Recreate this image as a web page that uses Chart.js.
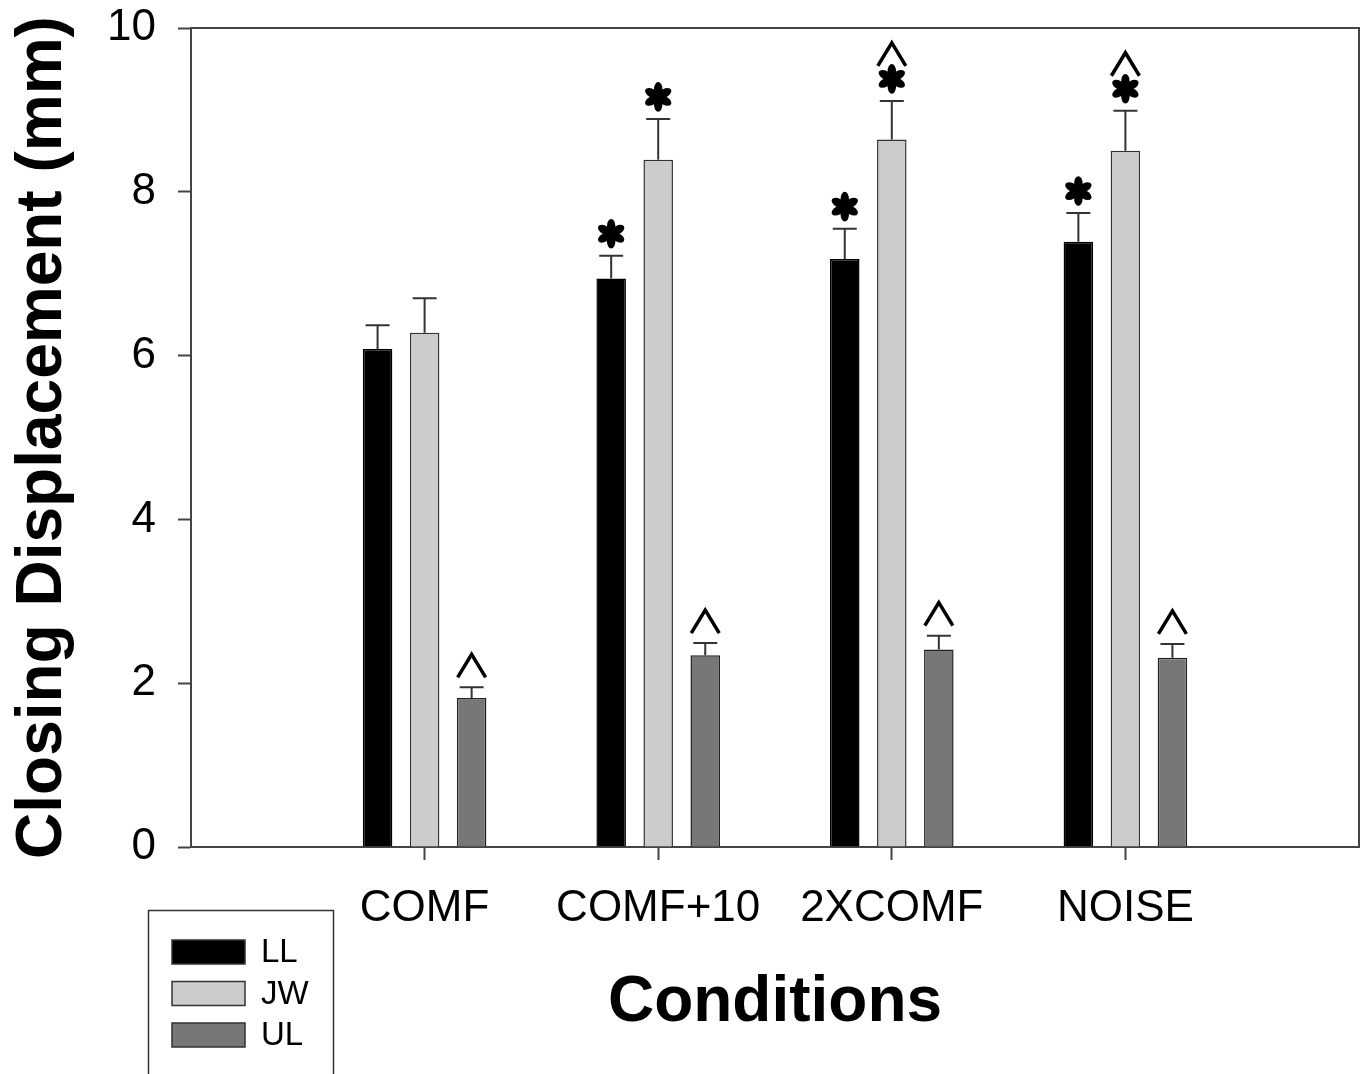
<!DOCTYPE html>
<html>
<head>
<meta charset="utf-8">
<script src="https://cdn.jsdelivr.net/npm/chart.js@4"></script>
<style>
  body { margin: 0; background: #fff; }
  canvas { display: block; }
</style>
</head>
<body>
<canvas id="chart" width="1365" height="1074"></canvas>
<script>
const categories = ["COMF", "COMF+10", "2XCOMF", "NOISE"];
const seriesNames = ["LL", "JW", "UL"];
const llValues = [6.08, 6.94, 7.18, 7.39];
const jwValues = [6.28, 8.39, 8.64, 8.50];
const ulValues = [1.82, 2.34, 2.41, 2.31];
const llErrors = [0.29, 0.28, 0.37, 0.35];
const jwErrors = [0.42, 0.50, 0.47, 0.49];
const ulErrors = [0.13, 0.15, 0.17, 0.17];
// significance marks above each bar: * and ^
const llMarks = ["", "*", "*", "*"];
const jwMarks = ["", "*", "*^", "*^"];
const ulMarks = ["^", "^", "^", "^"];
const yTicks = [0, 2, 4, 6, 8, 10];

const FONT = "'Liberation Sans', Arial, sans-serif";
const AXIS = "#444";

function toPoints(values) {
  return values.map((v, i) => ({ x: i + 1, y: v }));
}

function drawAsterisk(ctx, x, y) {
  ctx.save();
  ctx.translate(x, y);
  ctx.fillStyle = "#000";
  ctx.beginPath();
  ctx.arc(0, 0, 3, 0, Math.PI * 2);
  ctx.fill();
  for (let k = 0; k < 6; k++) {
    ctx.save();
    ctx.rotate(k * Math.PI / 3);
    ctx.beginPath();
    ctx.ellipse(0, -7.8, 4.2, 7, 0, 0, Math.PI * 2);
    ctx.fill();
    ctx.restore();
  }
  ctx.restore();
}

function drawCaret(ctx, x, y) {
  ctx.save();
  ctx.strokeStyle = "#000";
  ctx.lineWidth = 3.5;
  ctx.beginPath();
  ctx.moveTo(x - 14, y + 12);
  ctx.lineTo(x, y - 11);
  ctx.lineTo(x + 14, y + 12);
  ctx.stroke();
  ctx.restore();
}

const errorBars = {
  id: "errorBars",
  afterDatasetsDraw(chart) {
    const ctx = chart.ctx;
    const yScale = chart.scales.y;
    chart.data.datasets.forEach((ds, di) => {
      const meta = chart.getDatasetMeta(di);
      meta.data.forEach((bar, i) => {
        const capY = yScale.getPixelForValue(ds.data[i].y + ds.errors[i]);
        ctx.save();
        ctx.strokeStyle = "#333";
        ctx.lineWidth = 2;
        ctx.beginPath();
        ctx.moveTo(bar.x, bar.y);
        ctx.lineTo(bar.x, capY);
        ctx.moveTo(bar.x - 12, capY);
        ctx.lineTo(bar.x + 12, capY);
        ctx.stroke();
        ctx.restore();

        const marks = ds.marks[i];
        for (let m = 0; m < marks.length; m++) {
          const cy = capY - 22 - m * 25;
          if (marks[m] === "*") drawAsterisk(ctx, bar.x, cy);
          else drawCaret(ctx, bar.x, cy);
        }
      });
    });
  }
};

const frame = {
  id: "frame",
  afterDraw(chart) {
    const ctx = chart.ctx;
    const a = chart.chartArea;
    ctx.save();
    ctx.strokeStyle = AXIS;
    ctx.lineWidth = 2;
    ctx.beginPath();
    ctx.moveTo(a.left, a.top);
    ctx.lineTo(a.right, a.top);
    ctx.lineTo(a.right, a.bottom);
    ctx.stroke();

    // legend box
    ctx.lineWidth = 1.5;
    ctx.strokeStyle = "#333";
    ctx.strokeRect(148.5, 910.5, 185, 200);
    chart.data.datasets.forEach((ds, i) => {
      const top = 940 + i * 41.5;
      ctx.fillStyle = ds.backgroundColor;
      ctx.fillRect(172, top, 73, 24);
      ctx.strokeStyle = "#333";
      ctx.lineWidth = 1.5;
      ctx.strokeRect(172, top, 73, 24);
      ctx.fillStyle = "#000";
      ctx.font = "33px " + FONT;
      ctx.textBaseline = "middle";
      ctx.textAlign = "left";
      ctx.fillText(ds.label, 261, top + 13);
    });
    ctx.restore();
  }
};

new Chart(document.getElementById("chart"), {
  type: "bar",
  data: {
    datasets: [
      {
        label: seriesNames[0],
        data: toPoints(llValues),
        errors: llErrors,
        marks: llMarks,
        backgroundColor: "#000000",
        borderColor: "#000000",
        borderWidth: 1.5
      },
      {
        label: seriesNames[1],
        data: toPoints(jwValues),
        errors: jwErrors,
        marks: jwMarks,
        backgroundColor: "#cccccc",
        borderColor: "#333333",
        borderWidth: 1.5
      },
      {
        label: seriesNames[2],
        data: toPoints(ulValues),
        errors: ulErrors,
        marks: ulMarks,
        backgroundColor: "#777777",
        borderColor: "#222222",
        borderWidth: 1.5
      }
    ]
  },
  options: {
    responsive: false,
    animation: false,
    devicePixelRatio: 1,
    categoryPercentage: 0.604,
    barPercentage: 0.628,
    layout: {
      padding: { top: 28, right: 6, left: 0, bottom: 0 }
    },
    plugins: {
      legend: { display: false },
      tooltip: { enabled: false }
    },
    scales: {
      x: {
        type: "linear",
        min: 0,
        max: 5,
        offset: false,
        afterBuildTicks(scale) {
          scale.ticks = categories.map((c, i) => ({ value: i + 1 }));
        },
        afterFit(scale) {
          scale.height = 227;
          scale.paddingLeft = 0;
          scale.paddingRight = 0;
        },
        ticks: {
          color: "#000",
          padding: 22,
          font: { family: FONT, size: 44 },
          callback: (v) => categories[v - 1]
        },
        grid: {
          offset: false,
          drawOnChartArea: false,
          tickLength: 13,
          tickColor: AXIS,
          tickWidth: 2
        },
        border: { color: AXIS, width: 2 },
        title: {
          display: true,
          text: "Conditions",
          color: "#000",
          padding: { top: 32, bottom: 32 },
          font: { family: FONT, size: 64, weight: "bold", lineHeight: 1.2 }
        }
      },
      y: {
        min: 0,
        max: 10,
        afterBuildTicks(scale) {
          scale.ticks = yTicks.map((v) => ({ value: v }));
        },
        afterFit(scale) {
          scale.width = 191;
          scale.paddingTop = 0;
          scale.paddingBottom = 0;
        },
        ticks: {
          color: "#000",
          padding: 22,
          font: { family: FONT, size: 44 }
        },
        grid: {
          drawOnChartArea: false,
          tickLength: 13,
          tickColor: AXIS,
          tickWidth: 2
        },
        border: { color: AXIS, width: 2 },
        title: {
          display: true,
          text: "Closing Displacement (mm)",
          color: "#000",
          padding: { top: 5, bottom: 0 },
          font: { family: FONT, size: 64, weight: "bold", lineHeight: 1.2 }
        }
      }
    }
  },
  plugins: [errorBars, frame]
});
</script>
</body>
</html>
